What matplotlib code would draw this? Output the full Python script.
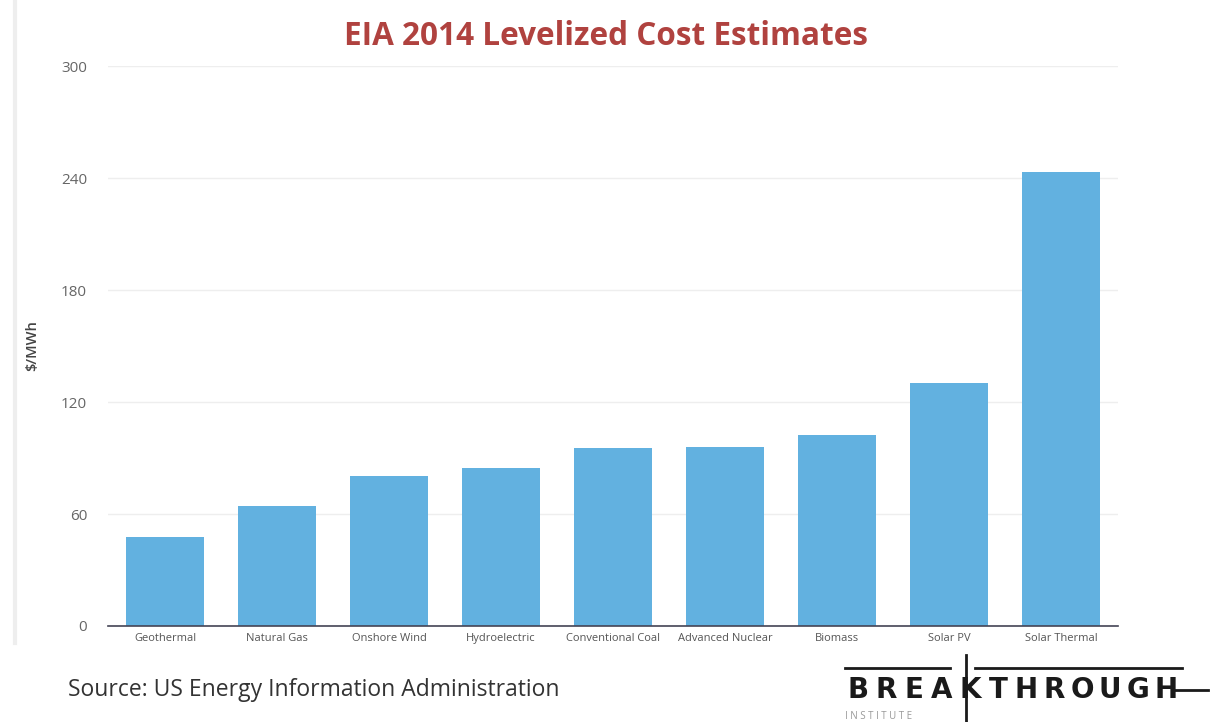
import matplotlib
matplotlib.use("Agg")
import matplotlib.pyplot as plt
from matplotlib.lines import Line2D

categories = ["Geothermal", "Natural Gas", "Onshore Wind", "Hydroelectric",
              "Conventional Coal", "Advanced Nuclear", "Biomass", "Solar PV",
              "Solar Thermal"]
costs = [47.9, 64.4, 80.3, 84.5, 95.6, 96.1, 102.6, 130.0, 243.1]
yticks = [0, 60, 120, 180, 240, 300]

plt.rcParams['font.family'] = ['Open Sans', 'DejaVu Sans']

fig = plt.figure(figsize=(12.12, 7.22), dpi=100)
fig.patch.set_facecolor("white")
ax = fig.add_axes([0.0891, 0.133, 0.8333, 0.7754])

ax.bar(range(len(categories)), costs, width=0.70, color="#62b1e0", zorder=3)
ax.set_xlim(-0.51, len(categories) - 0.49)
ax.set_ylim(0, 300)
ax.set_yticks(yticks)
ax.set_yticklabels([str(v) for v in yticks], fontsize=11, color="#666666")
ax.set_xticks(range(len(categories)))
ax.set_xticklabels(categories, fontsize=8, color="#555555")
ax.tick_params(axis="both", length=0, pad=5)
ax.tick_params(axis="y", pad=15)
ax.grid(axis="y", color="#eeeeee", linewidth=1, zorder=0)
for s in ["top", "right", "left"]:
    ax.spines[s].set_visible(False)
ax.spines["bottom"].set_color("#444455")
ax.spines["bottom"].set_linewidth(1.2)
ax.spines["bottom"].set_zorder(4)
ax.set_ylabel("$/MWh", fontsize=10.5, color="#444444", labelpad=16, fontweight="semibold")

fig.text(0.5, 0.949, "EIA 2014 Levelized Cost Estimates", ha="center", va="center",
         fontsize=22.7, fontweight="bold", color="#b0423f")

fig.text(0.056, 0.045, "Source: US Energy Information Administration",
         ha="left", va="center", fontsize=16.5, color="#333333")

# faint left stripe
fig.add_artist(Line2D([0.012, 0.012], [0.11, 1.0], color="#eeeeee", linewidth=3,
                      transform=fig.transFigure))

# Breakthrough logo (text-based, letter-spaced)
logo = "BREAKTHROUGH"
c0, c1 = 858, 1166
step = (c1 - c0) / (len(logo) - 1)
for i, ch in enumerate(logo):
    fig.text((c0 + i * step) / 1212, 0.044, ch, ha="center", va="center",
             fontsize=20, fontweight="bold", color="#1a1a1a", family="DejaVu Sans")
fig.text(0.6975, 0.008, "I N S T I T U T E", ha="left", va="center", fontsize=7,
         color="#999999")
tf = fig.transFigure
fig.add_artist(Line2D([845 / 1212, 950 / 1212], [0.075, 0.075], color="#1a1a1a", lw=2, transform=tf))
fig.add_artist(Line2D([975 / 1212, 1182 / 1212], [0.075, 0.075], color="#1a1a1a", lw=2, transform=tf))
fig.add_artist(Line2D([966 / 1212, 966 / 1212], [0.0, 0.093], color="#1a1a1a", lw=2, transform=tf))
fig.add_artist(Line2D([1172 / 1212, 1208 / 1212], [0.044, 0.044], color="#1a1a1a", lw=2, transform=tf))

fig.savefig("out.png", dpi=100, facecolor="white")
